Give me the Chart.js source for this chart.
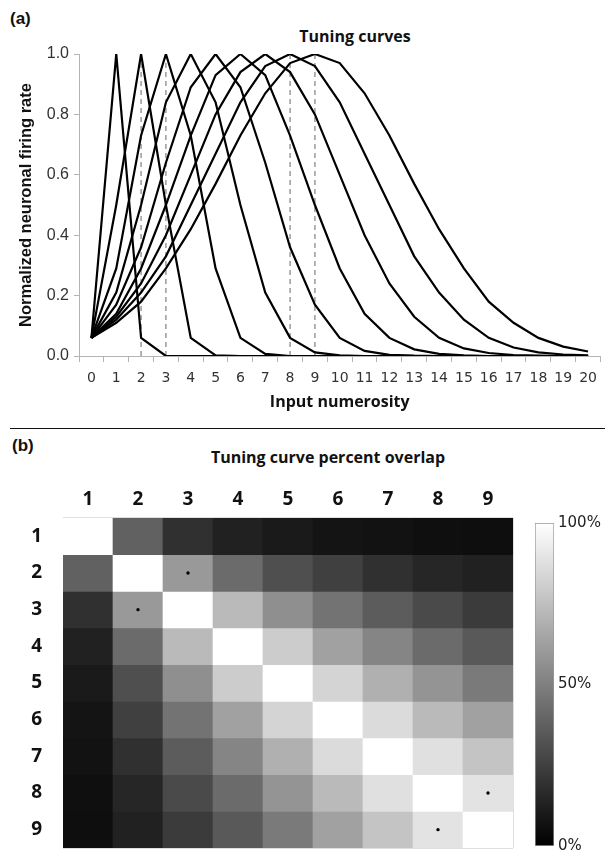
<!DOCTYPE html>
<html>
<head>
<meta charset="utf-8">
<script src="https://cdn.jsdelivr.net/npm/chart.js@4/dist/chart.umd.min.js"></script>
<style>
  html, body { margin: 0; padding: 0; background: #fff; }
  #wrap { position: relative; width: 605px; height: 852px; overflow: hidden; }
  canvas { position: absolute; }
  .lbl { position: absolute; white-space: nowrap; color: #111; }
  .panel { font-family: "Liberation Sans", Arial, sans-serif; font-weight: bold; font-size: 17px; }
  .ttl { font-family: "Open Sans", sans-serif; font-weight: bold; font-size: 16px; transform: translate(-50%, -50%); }
  #sep { position: absolute; left: 10px; top: 428px; width: 595px; height: 0; border-top: 1.5px solid #111; }
</style>
</head>
<body>
<div id="wrap">
  <div class="lbl panel" style="left:10px;top:9px;">(a)</div>
  <div class="lbl ttl" style="left:355px;top:36px;">Tuning curves</div>
  <canvas id="cA" width="605" height="420" style="left:0;top:0;"></canvas>
  <div id="sep"></div>
  <div class="lbl panel" style="left:12px;top:436px;">(b)</div>
  <div class="lbl ttl" style="left:328px;top:457px;">Tuning curve percent overlap</div>
  <canvas id="cB" width="520" height="382" style="left:0;top:470px;"></canvas>
  <canvas id="cC" width="85" height="382" style="left:520px;top:470px;"></canvas>
</div>
<script>
// ---------- Panel (a): tuning curves ----------
const numerosity = [0,1,2,3,4,5,6,7,8,9,10,11,12,13,14,15,16,17,18,19,20];
const curve1 = [0.06,1,0.06,0,0,0,0,0,0,0,0,0,0,0,0,0,0,0,0,0,0];
const curve2 = [0.06,0.5,1,0.5,0.06,0.002,0,0,0,0,0,0,0,0,0,0,0,0,0,0,0];
const curve3 = [0.06,0.29,0.73,1,0.73,0.29,0.06,0.007,0,0,0,0,0,0,0,0,0,0,0,0,0];
const curve4 = [0.06,0.21,0.5,0.84,1,0.84,0.5,0.21,0.06,0.012,0.002,0,0,0,0,0,0,0,0,0,0];
const curve5 = [0.06,0.17,0.36,0.64,0.89,1,0.89,0.64,0.36,0.17,0.06,0.017,0.004,0.001,0,0,0,0,0,0,0];
const curve6 = [0.06,0.14,0.29,0.5,0.73,0.93,1,0.93,0.73,0.5,0.29,0.14,0.06,0.022,0.007,0.002,0,0,0,0,0];
const curve7 = [0.06,0.13,0.24,0.4,0.6,0.8,0.94,1,0.94,0.8,0.6,0.4,0.24,0.13,0.06,0.025,0.01,0.003,0.001,0,0];
const curve8 = [0.06,0.12,0.21,0.33,0.5,0.67,0.84,0.96,1,0.96,0.84,0.67,0.5,0.33,0.21,0.12,0.06,0.028,0.012,0.005,0.002];
const curve9 = [0.06,0.11,0.18,0.29,0.42,0.57,0.73,0.87,0.97,1,0.97,0.87,0.73,0.57,0.42,0.29,0.18,0.11,0.06,0.031,0.015];
const curves = [curve1,curve2,curve3,curve4,curve5,curve6,curve7,curve8,curve9];
const markerNumerosities = [2,3,8,9];   // dashed reference lines
const yTickValues = [0,0.2,0.4,0.6,0.8,1.0];

// ---------- Panel (b): percent overlap matrix ----------
const overlapLabels = ['1','2','3','4','5','6','7','8','9'];
const overlapRow1 = [100,38,19,13,10,8,7,6,5.5];
const overlapRow2 = [38,100,60,42,31,25,19,15,13];
const overlapRow3 = [19,60,100,73,56,45,36,29,23];
const overlapRow4 = [13,42,73,100,80,63,52,42,35];
const overlapRow5 = [10,31,56,80,100,83,69,58,48];
const overlapRow6 = [8,25,45,63,83,100,86,73,63];
const overlapRow7 = [7,19,36,52,69,86,100,88,77];
const overlapRow8 = [6,15,29,42,58,73,88,100,89];
const overlapRow9 = [5.5,13,23,35,48,63,77,89,100];
const overlapRows = [overlapRow1,overlapRow2,overlapRow3,overlapRow4,overlapRow5,overlapRow6,overlapRow7,overlapRow8,overlapRow9];
const markedPairs = [[2,3],[3,2],[8,9],[9,8]];  // [row, column]
const colorbarRange = [0,100];
const colorbarTicks = [0,50,100];

// ---------- styles ----------
const AXIS_GRAY = '#b4b4b4';
function grayOf(pct) {
  const g = Math.round(pct * 2.55);
  return 'rgb(' + g + ',' + g + ',' + g + ')';
}
function noPad(s) { s.paddingTop = 0; s.paddingBottom = 0; s.paddingLeft = 0; s.paddingRight = 0; }

// ---------- Chart (a) ----------
const curveDatasets = curves.map((c, i) => ({
  label: 'Tuning curve ' + (i + 1),
  data: c,
  borderColor: '#000',
  borderWidth: 2.2,
  pointRadius: 0,
  tension: 0,
  fill: false,
  order: 0
}));
const dashDatasets = markerNumerosities.map(n => ({
  label: 'ref ' + n,
  data: [{x: String(n), y: 0}, {x: String(n), y: 1}],
  borderColor: '#8a8a8a',
  borderWidth: 1.3,
  borderDash: [5, 4],
  pointRadius: 0,
  fill: false,
  order: 1
}));

new Chart(document.getElementById('cA'), {
  type: 'line',
  data: { labels: numerosity.map(String), datasets: curveDatasets.concat(dashDatasets) },
  options: {
    responsive: false, animation: false, devicePixelRatio: 1,
    layout: { padding: { top: 54, right: 1, bottom: 0, left: 0 } },
    plugins: { legend: { display: false }, tooltip: { enabled: false }, title: { display: false } },
    scales: {
      x: {
        type: 'category', offset: true,
        grid: { drawOnChartArea: false, offset: true, tickLength: 6, color: AXIS_GRAY },
        border: { color: AXIS_GRAY },
        ticks: { font: { family: 'DejaVu Sans', size: 14 }, color: '#333', padding: 8, maxRotation: 0, autoSkip: false },
        title: { display: true, text: 'Input numerosity', color: '#111',
                 font: { family: 'Open Sans', weight: 'bold', size: 16 }, padding: { top: 0, bottom: 8 } },
        afterFit(s) { s.height = 64; }
      },
      y: {
        min: 0, max: 1,
        afterBuildTicks(s) { s.ticks = yTickValues.map(v => ({ value: v })); },
        ticks: { callback: v => Number(v).toFixed(1), font: { family: 'Liberation Sans', size: 16 }, color: '#333', padding: 5 },
        grid: { drawOnChartArea: false, tickLength: 5, color: AXIS_GRAY },
        border: { color: AXIS_GRAY },
        title: { display: true, text: 'Normalized neuronal firing rate', color: '#111',
                 font: { family: 'Liberation Sans', weight: 'bold', size: 16.5 }, padding: { top: 17, bottom: 0 } },
        afterFit(s) { s.width = 79; }
      }
    }
  }
});

// ---------- Chart (b): heatmap ----------
const CELL_LINE = 'rgba(150,150,150,0.3)';
const rowDatasets = overlapRows.map((row, i) => ({
  type: 'bar',
  label: 'Row ' + overlapLabels[i],
  data: row.map(() => 1),
  backgroundColor: row.map(grayOf),
  borderWidth: 0,
  barPercentage: 1,
  categoryPercentage: 1,
  stack: 'cells',
  yAxisID: 'y',
  order: 1
}));
const dotDataset = {
  type: 'line',
  label: 'marked pairs',
  data: markedPairs.map(([r, c]) => ({ x: overlapLabels[c - 1], y: r - 0.5 })),
  showLine: false,
  pointRadius: 1.7,
  pointBackgroundColor: '#000',
  pointBorderWidth: 0,
  yAxisID: 'y',
  stack: 'dots',
  order: 0
};

new Chart(document.getElementById('cB'), {
  type: 'bar',
  data: { labels: overlapLabels, datasets: rowDatasets.concat([dotDataset]) },
  options: {
    responsive: false, animation: false, devicePixelRatio: 1,
    layout: { padding: { top: 0, right: 7, bottom: 0, left: 0 } },
    plugins: { legend: { display: false }, tooltip: { enabled: false } },
    scales: {
      x: {
        position: 'top', z: 1,
        grid: { offset: true, color: CELL_LINE, drawTicks: false },
        border: { display: false },
        ticks: { font: { family: 'Open Sans', weight: 'bold', size: 19 }, color: '#111', padding: 7 },
        afterFit(s) { s.height = 48; noPad(s); }
      },
      y: { type: 'linear', min: 0, max: overlapLabels.length, reverse: true, stacked: true, display: false,
           afterFit(s) { noPad(s); } },
      yl: {
        type: 'category', labels: overlapLabels, position: 'left', offset: true, z: 1,
        grid: { offset: true, color: CELL_LINE, drawTicks: false },
        border: { display: false },
        ticks: { font: { family: 'Open Sans', weight: 'bold', size: 19 }, color: '#111', padding: 21 },
        afterFit(s) { s.width = 63; noPad(s); }
      }
    }
  }
});

// ---------- Chart (c): colorbar ----------
new Chart(document.getElementById('cC'), {
  type: 'bar',
  data: {
    labels: [''],
    datasets: [{
      label: 'colorbar',
      data: [colorbarRange],
      backgroundColor: (ctx) => {
        const a = ctx.chart.chartArea;
        if (!a) return '#888';
        const g = ctx.chart.ctx.createLinearGradient(0, a.bottom, 0, a.top);
        g.addColorStop(0, grayOf(colorbarRange[0]));
        g.addColorStop(1, grayOf(colorbarRange[1]));
        return g;
      },
      borderColor: '#9a9a9a',
      borderWidth: 1,
      borderSkipped: false,
      barPercentage: 1,
      categoryPercentage: 1
    }]
  },
  options: {
    responsive: false, animation: false, devicePixelRatio: 1,
    layout: { padding: { top: 53, right: 0, bottom: 6, left: 15 } },
    plugins: { legend: { display: false }, tooltip: { enabled: false } },
    scales: {
      x: { display: false },
      y: {
        position: 'right', min: colorbarRange[0], max: colorbarRange[1],
        afterBuildTicks(s) { s.ticks = colorbarTicks.map(v => ({ value: v })); },
        grid: { display: false, drawTicks: false },
        border: { display: false },
        ticks: { callback: v => v + '%', font: { family: 'DejaVu Sans', size: 15 }, color: '#222', padding: 4 },
        afterFit(s) { s.width = 51; noPad(s); }
      }
    }
  }
});
</script>
</body>
</html>
